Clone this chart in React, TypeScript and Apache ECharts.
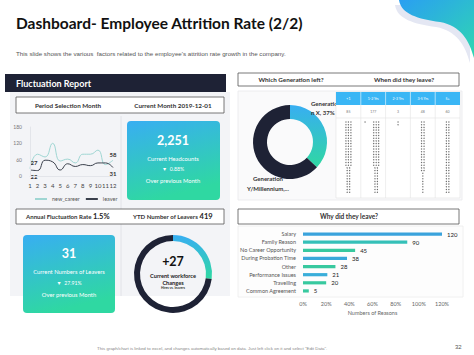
import React, { useEffect, useRef } from "react";
import * as echarts from "echarts";

// ---------- data ----------
const months = ["1", "2", "3", "4", "5", "6", "7", "8", "9", "10", "11", "12"];
const newCareer = [27, 80, 70, 120, 55, 62, 48, 80, 80, 95, 42, 58];
const leaver = [22, 20, 58, 52, 22, 45, 35, 42, 38, 48, 48, 31];
const lineSeriesNames = ["new_career", "leaver"];

const headcount = "2,251";
const headcountChange = "0.88%";
const leaversNow = "31";
const leaversChange = "27.91%";
const annualRate = "1.5%";
const ytdLeavers = "419";
const workforceChange = "+27";
const workforceShare = [27, 73];

const genNames = ["Generation X", "Generation Y/Millennium"];
const genShares = [37, 63];

const buckets = ["<1", "1-2 Yrs", "2-3 Yrs", "3-5 Yrs", "5+"];
const bucketCounts = [85, 177, 3, 48, 60];
// dot pictogram per column: [dots per row, number of rows]
const dotRuns: number[][][] = [
  [[3, 17], [2, 10]],
  [[3, 17], [2, 10]],
  [[1, 2]],
  [[2, 19], [1, 8]],
  [[2, 27]],
];
// extra single dots: [column, row, offset]
const extraDots = [[1, 0, -0.33]];

const reasons = [
  "Salary",
  "Family Reason",
  "No Career Opportunity",
  "During Probation Time",
  "Other",
  "Performance Issues",
  "Travelling",
  "Common Agreement",
];
const reasonCounts = [120, 90, 45, 38, 28, 21, 20, 5];
const reasonColors = ["#3aa3dc", "#35c0b8", "#38c99f", "#3aa8da", "#38c99f", "#3aaeda", "#38c99f", "#38c99f"];

const NAVY = "#1e2235";
const FONT = "Lato";

function buildDots() {
  const pts: number[][] = [];
  dotRuns.forEach((runs, c) => {
    let row = 0;
    runs.forEach(([n, rows]) => {
      for (let r = 0; r < rows; r++) {
        for (let k = 0; k < n; k++) {
          const off = (k - (n - 1) / 2) * 0.1 + (c === 1 ? 0.12 : 0);
          pts.push([c + 0.5 + off, row + 0.5]);
        }
        row++;
      }
    });
  });
  extraDots.forEach(([c, r, off]) => pts.push([c + 0.5 + off, r + 0.5]));
  return pts;
}

export default function App() {
  const ref = useRef<HTMLDivElement>(null);
  useEffect(() => {
    if (!ref.current) return;
    const chart = echarts.init(ref.current, null, { renderer: "svg" });

    echarts.graphic.registerShape(
      "blob",
      echarts.graphic.extendPath("M399 0 C401 14 418 19 440 22 C461 26 469 40 474 58 L474 0 Z", {})
    );

    const tealGrad = (x2: number, y2: number) =>
      new echarts.graphic.LinearGradient(0, 0, x2, y2, [
        { offset: 0, color: "#38aef2" },
        { offset: 1, color: "#2fd8a2" },
      ]);

    const txt = (
      text: string,
      x: number,
      y: number,
      size: number,
      opts: any = {}
    ) => ({
      type: "text",
      x,
      y,
      z: opts.z ?? 10,
      style: {
        text,
        fontSize: size,
        fontFamily: opts.family ?? FONT,
        fontWeight: opts.weight ?? "normal",
        fill: opts.fill ?? "#333",
        align: opts.align ?? "left",
        verticalAlign: "middle",
        lineHeight: opts.lh,
        width: opts.width,
        overflow: opts.overflow,
        rich: opts.rich,
      },
    });

    const colW = 124 / 5;
    const tableX = 336;
    const tableGraphics: any[] = [
      { type: "rect", shape: { x: tableX, y: 92, width: 124, height: 106 }, style: { fill: "#fff", stroke: "#e3e3e3", lineWidth: 0.6 }, z: 5 },
      { type: "rect", shape: { x: tableX, y: 92, width: 124, height: 13 }, style: { fill: "#3ab6f5" }, z: 6 },
      { type: "line", shape: { x1: tableX, y1: 118, x2: tableX + 124, y2: 118 }, style: { stroke: "#e3e3e3", lineWidth: 0.6 }, z: 6 },
    ];
    for (let i = 1; i < 5; i++) {
      tableGraphics.push({ type: "line", shape: { x1: tableX + colW * i, y1: 92, x2: tableX + colW * i, y2: 105 }, style: { stroke: "#ffffff", lineWidth: 0.6 }, z: 7 });
      tableGraphics.push({ type: "line", shape: { x1: tableX + colW * i, y1: 105, x2: tableX + colW * i, y2: 198 }, style: { stroke: "#e3e3e3", lineWidth: 0.6 }, z: 7 });
    }
    buckets.forEach((b, i) => {
      tableGraphics.push(txt(b, tableX + colW * (i + 0.5), 98.5, 3.5, { fill: "#ffffff", align: "center", z: 8 }));
      tableGraphics.push(txt(String(bucketCounts[i]), tableX + colW * (i + 0.5), 111.5, 3.5, { fill: "#777", align: "center", z: 8 }));
    });

    const boxRich = {
      a: { fontSize: 6.1, fontWeight: "bold", fill: "#333", fontFamily: FONT },
      b: { fontSize: 7.5, fontWeight: "bold", fill: "#222", fontFamily: FONT },
    };

    const endLabel = (pos: string) => ({
      show: true,
      position: pos,
      distance: 3,
      fontSize: 6,
      fontWeight: "bold",
      color: "#333",
      formatter: (p: any) => (p.dataIndex === 0 || p.dataIndex === months.length - 1 ? String(p.value) : ""),
    });
    const withFirstOffset = (arr: number[]) =>
      arr.map((v, i) => (i === 0 ? { value: v, label: { offset: [4, 0] } } : v));

    const option: any = {
      animation: false,
      textStyle: { fontFamily: FONT },
      graphic: [
        // header
        { type: "blob", x: -4, y: 5, style: { fill: "#e4e7f3" }, z: 1 },
        { type: "blob", style: { fill: new echarts.graphic.LinearGradient(0, 0, 1, 1, [{ offset: 0, color: "#2a9ff2" }, { offset: 1, color: "#2fd8b0" }]) }, z: 2 },
        txt("Dashboard- Employee Attrition Rate (2/2)", 16, 23, 15.5, { weight: "bold", fill: "#111" }),
        txt("This slide shows the various  factors related to the employee's attrition rate growth in the company.", 16, 53, 6.2, { fill: "#555", family: "Liberation Sans" }),

        // left panel
        { type: "rect", shape: { x: 10, y: 92, width: 220, height: 204 }, style: { fill: "#f3f4f7" }, z: 1 },
        { type: "rect", shape: { x: 5, y: 74, width: 221, height: 18 }, style: { fill: NAVY }, z: 2 },
        txt("Fluctuation Report", 16, 83.5, 9, { weight: "bold", fill: "#fff" }),
        { type: "rect", shape: { x: 16, y: 97, width: 208, height: 16 }, style: { fill: "#fff", stroke: "#555", lineWidth: 0.8 }, z: 3 },
        txt("Period Selection Month", 68, 105, 6.3, { weight: "bold", align: "center", fill: "#333" }),
        txt("Current Month 2019-12-01", 173, 105, 6.3, { weight: "bold", align: "center", fill: "#333" }),
        { type: "line", shape: { x1: 121, y1: 116, x2: 121, y2: 296 }, style: { stroke: "#dde0e5", lineWidth: 0.8 }, z: 2 },

        { type: "rect", shape: { x: 127, y: 121, width: 93, height: 79, r: 4 }, style: { fill: tealGrad(0.3, 1) }, z: 3 },
        txt(headcount, 173, 140, 12.5, { weight: "bold", fill: "#fff", align: "center" }),
        txt("Current Headcounts", 173, 158, 5.8, { fill: "#fff", align: "center" }),
        txt("▼  " + headcountChange, 173, 169, 5.2, { fill: "#fff", align: "center" }),
        txt("Over previous Month", 173, 180, 5.8, { fill: "#fff", align: "center" }),

        { type: "rect", shape: { x: 16, y: 209, width: 208, height: 15 }, style: { fill: "#fff", stroke: "#555", lineWidth: 0.8 }, z: 3 },
        txt("{a|Annual Fluctuation Rate} {b|" + annualRate + "}", 26, 216.5, 6.1, { rich: boxRich }),
        txt("{a|YTD Number of Leavers} {b|" + ytdLeavers + "}", 133, 216.5, 6.1, { rich: boxRich }),

        { type: "rect", shape: { x: 23, y: 235, width: 92, height: 78, r: 4 }, style: { fill: tealGrad(0.3, 1) }, z: 3 },
        txt(leaversNow, 69, 253, 12.5, { weight: "bold", fill: "#fff", align: "center" }),
        txt("Current Numbers of Leavers", 69, 271, 5.8, { fill: "#fff", align: "center" }),
        txt("▼  " + leaversChange, 69, 283, 5.2, { fill: "#fff", align: "center" }),
        txt("Over previous Month", 69, 294, 5.8, { fill: "#fff", align: "center" }),

        txt(workforceChange, 173, 261, 12.5, { weight: "bold", fill: "#111", align: "center" }),
        txt("Current workforce", 173, 275, 5.6, { weight: "bold", fill: "#222", align: "center" }),
        txt("Changes", 173, 282, 5.6, { weight: "bold", fill: "#222", align: "center" }),
        txt("Hires vs. leavers", 173, 288, 3.4, { weight: "bold", fill: "#333", align: "center" }),

        // right panels
        { type: "rect", shape: { x: 238, y: 73, width: 221, height: 13 }, style: { fill: "#fff", stroke: "#555", lineWidth: 0.8 }, z: 3 },
        txt("Which Generation left?", 291, 79.5, 6.3, { weight: "bold", align: "center", fill: "#333" }),
        txt("When did they leave?", 404, 79.5, 6.3, { weight: "bold", align: "center", fill: "#333" }),
        { type: "rect", shape: { x: 238, y: 91, width: 224, height: 109 }, style: { fill: "#fafafb", stroke: "#e8e8ec", lineWidth: 0.8 }, z: 1 },
        txt(genNames[0] + ", " + genShares[0] + "%", 311, 107.5, 6, { weight: "bold", fill: "#333", z: 4, lh: 9, width: 27, overflow: "breakAll" }),
        txt("Generation\nY/Millennium,...", 268, 183, 6, { weight: "bold", fill: "#333", align: "center", lh: 10 }),
        ...tableGraphics,

        { type: "rect", shape: { x: 238, y: 209, width: 221, height: 15 }, style: { fill: "#fff", stroke: "#555", lineWidth: 0.8 }, z: 3 },
        txt("Why did they leave?", 349, 216.5, 6.5, { weight: "bold", align: "center", fill: "#333" }),
        { type: "rect", shape: { x: 238, y: 226, width: 225, height: 71 }, style: { fill: "#fdfdfd", stroke: "#ececec", lineWidth: 0.8 }, z: 1 },

        // footer
        txt('This graph/chart is linked to excel, and changes automatically based on data. Just left click on it and select "Edit Data".', 97, 348, 4.4, { fill: "#888", family: "Liberation Sans" }),
        txt("32", 455, 347, 6, { fill: "#555", family: "Liberation Sans" }),
      ],
      grid: [
        { left: 30, right: 361, top: 127, bottom: 179 },
        { left: 303, right: 32, top: 230, bottom: 60 },
        { left: 336, right: 14, top: 120.65, bottom: 161.45 },
      ],
      legend: {
        data: lineSeriesNames,
        left: 30,
        top: 191,
        itemWidth: 12,
        itemHeight: 2,
        itemGap: 6,
        icon: "rect",
        z: 20,
        textStyle: { fontSize: 5.5, color: "#555", fontFamily: FONT },
      },
      xAxis: [
        {
          gridIndex: 0,
          type: "category",
          data: months,
          boundaryGap: false,
          z: 20,
          axisTick: { show: false },
          axisLine: { lineStyle: { color: "#e3e5ea" } },
          axisLabel: { fontSize: 6, color: "#444", margin: 6, interval: 0 },
        },
        {
          gridIndex: 1,
          type: "value",
          min: 0,
          max: 120,
          interval: 20,
          z: 20,
          splitLine: { show: false },
          axisLine: { show: false },
          axisTick: { show: false },
          axisLabel: { fontSize: 5.5, color: "#666", margin: 6, formatter: "{value}%" },
          name: "Numbers of Reasons",
          nameLocation: "middle",
          nameGap: 15,
          nameTextStyle: { fontSize: 5.5, color: "#666" },
        },
        { gridIndex: 2, type: "value", min: 0, max: 5, show: false },
      ],
      yAxis: [
        {
          gridIndex: 0,
          type: "value",
          min: 0,
          max: 180,
          interval: 60,
          z: 20,
          splitLine: { show: false },
          axisLine: { show: true, lineStyle: { color: "#e3e5ea" } },
          axisLabel: { fontSize: 5, color: "#777", margin: 8 },
        },
        {
          gridIndex: 1,
          type: "category",
          data: reasons,
          inverse: true,
          z: 20,
          axisLine: { show: false },
          axisTick: { show: false },
          axisLabel: { fontSize: 5.5, color: "#555", margin: 7, interval: 0 },
        },
        { gridIndex: 2, type: "value", min: 0, max: 27, inverse: true, show: false },
      ],
      series: [
        {
          name: lineSeriesNames[0],
          type: "line",
          xAxisIndex: 0,
          yAxisIndex: 0,
          data: withFirstOffset(newCareer),
          smooth: true,
          showSymbol: true,
          symbol: "circle",
          symbolSize: 0.1,
          lineStyle: { width: 1, color: "#9fd6d3" },
          itemStyle: { color: "#9fd6d3" },
          label: endLabel("top"),
          z: 15,
        },
        {
          name: lineSeriesNames[1],
          type: "line",
          xAxisIndex: 0,
          yAxisIndex: 0,
          data: withFirstOffset(leaver),
          smooth: true,
          showSymbol: true,
          symbol: "circle",
          symbolSize: 0.1,
          lineStyle: { width: 1, color: "#3a404c" },
          itemStyle: { color: "#3a404c" },
          label: endLabel("bottom"),
          z: 15,
        },
        {
          type: "bar",
          xAxisIndex: 1,
          yAxisIndex: 1,
          barWidth: 3.2,
          data: reasonCounts.map((v, i) => ({ value: v, itemStyle: { color: reasonColors[i] } })),
          label: { show: true, position: "right", distance: 5, fontSize: 6, color: "#222" },
          z: 15,
        },
        {
          type: "scatter",
          xAxisIndex: 2,
          yAxisIndex: 2,
          data: buildDots(),
          symbolSize: 1.3,
          itemStyle: { color: "#444" },
          silent: true,
          z: 12,
        },
        {
          type: "pie",
          center: [290, 142],
          radius: [23, 37],
          startAngle: 90,
          clockwise: true,
          silent: true,
          label: { show: false },
          labelLine: { show: false },
          data: genNames.map((n, i) => ({
            name: n,
            value: genShares[i],
            itemStyle: { color: i === 0 ? tealGrad(0, 1) : NAVY },
          })),
          z: 3,
        },
        {
          type: "pie",
          center: [173, 274],
          radius: [33, 39],
          startAngle: 90,
          clockwise: true,
          silent: true,
          label: { show: false },
          labelLine: { show: false },
          data: workforceShare.map((v, i) => ({
            name: i === 0 ? "Change" : "Base",
            value: v,
            itemStyle: { color: i === 0 ? tealGrad(0, 1) : NAVY },
          })),
          z: 3,
        },
      ],
    };
    chart.setOption(option);
    return () => chart.dispose();
  }, []);

  return (
    <div
      ref={ref}
      style={{ position: "fixed", left: 0, top: 0, width: 474, height: 355, background: "#fff" }}
    />
  );
}
